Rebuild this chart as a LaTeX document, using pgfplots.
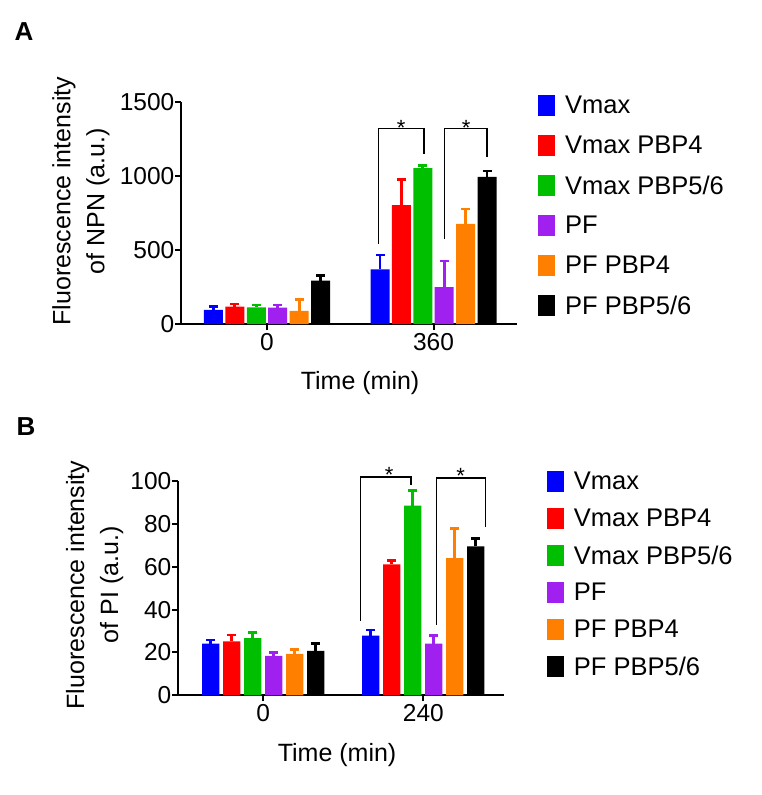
\documentclass[border=0pt]{standalone}
\usepackage{pgfplots}
\pgfplotsset{compat=1.18}
\usepackage{fontspec}
\setmainfont{Liberation Sans}
\definecolor{cblue}{RGB}{0,0,255}
\definecolor{cred}{RGB}{255,0,0}
\definecolor{cgreen}{RGB}{0,190,0}
\definecolor{cpurple}{RGB}{160,32,240}
\definecolor{corange}{RGB}{255,128,0}
\definecolor{cblack}{RGB}{0,0,0}
\pgfplotsset{
  barc/.style={fill=#1, draw=none,
    error bars/.cd, y dir=plus, y explicit,
    error bar style={draw=#1, line width=2.8pt},
    error mark=|,
    error mark options={draw=#1, line width=2.8pt, mark size=4.5pt},
    /pgfplots/.cd},
  common/.style={
    scale only axis,
    axis x line*=bottom, axis y line*=left,
    axis line style={line width=2pt, -},
    every tick/.style={line width=2pt, black},
    tick align=outside, major tick length=6pt,
    xtick={0,1},
    ymin=0, clip=false,
    tick label style={font=\fontsize{24.5}{25}\selectfont},
    /pgf/number format/assume math mode=true,
    /pgf/number format/1000 sep={},
    yticklabel style={inner xsep=0.5pt},
    xlabel style={font=\fontsize{25}{26}\selectfont, anchor=center},
    ylabel style={font=\fontsize{25}{34}\selectfont, align=center, anchor=center},
    legend cell align=left,
    legend style={draw=none, fill=none, inner sep=0pt, row sep=0pt, column sep=0pt,
      font=\fontsize{25.5}{26}\selectfont, anchor=north west,
      nodes={inner sep=0pt}},
  }
}
\begin{document}
\begin{tikzpicture}
\path[use as bounding box] (0pt,0pt) rectangle (762pt,-795pt);
\node[font=\bfseries\fontsize{26}{26}\selectfont] at (24pt,-32pt) {A};
\node[font=\bfseries\fontsize{26}{26}\selectfont] at (26pt,-427pt) {B};
% ---------------- Panel A
\begin{axis}[common,
  at={(181pt,-324pt)}, anchor=south west,
  width=336pt, height=221.7pt,
  xmin=-0.5165, xmax=1.5015,
  ymax=1500, ytick={0,500,1000,1500},
  xticklabels={0,360},
  ybar=2.4pt, bar width=19pt,
  xlabel={Time (min)},
  xlabel style={at={(axis description cs:0.533,-0.2675)}},
  ylabel={Fluorescence intensity\\of NPN (a.u.)},
  ylabel style={at={(axis description cs:-0.298,0.554)}},
  legend style={at={(axis description cs:1.0625,1.0749)}},
  legend image code/.code={\fill[#1] (0pt,-10.5pt) rectangle (17pt,10.5pt); \path[fill=none, draw=none] (0pt,-20pt) rectangle (27pt,20pt);},
]
\addplot[barc=cblue] coordinates {(0,95) +- (0,22) (1,370) +- (0,97)};
\addplot[barc=cred] coordinates {(0,117) +- (0,18) (1,805) +- (0,174)};
\addplot[barc=cgreen] coordinates {(0,113) +- (0,15) (1,1055) +- (0,15)};
\addplot[barc=cpurple] coordinates {(0,110) +- (0,18) (1,250) +- (0,176)};
\addplot[barc=corange] coordinates {(0,88) +- (0,79) (1,677) +- (0,101)};
\addplot[barc=cblack] coordinates {(0,293) +- (0,34) (1,995) +- (0,40)};
\legend{Vmax, Vmax PBP4, Vmax PBP5/6, PF, PF PBP4, PF PBP5/6}
\draw[line width=1.6pt] ([xshift=-55pt]axis cs:1,540) -- ([xshift=-55pt]axis cs:1,1324)
   -- ([xshift=-9.3pt]axis cs:1,1324) -- ([xshift=-9.3pt]axis cs:1,1150);
\draw[line width=1.6pt] ([xshift=11pt]axis cs:1,574) -- ([xshift=11pt]axis cs:1,1324)
   -- ([xshift=53.3pt]axis cs:1,1324) -- ([xshift=53.3pt]axis cs:1,1130);
\node[anchor=base, yshift=-7pt, inner sep=0pt, font=\fontsize{22}{22}\selectfont] at ([xshift=-32.3pt]axis cs:1,1324) {*};
\node[anchor=base, yshift=-7pt, inner sep=0pt, font=\fontsize{22}{22}\selectfont] at ([xshift=32.7pt]axis cs:1,1324) {*};
\end{axis}
% ---------------- Panel B
\begin{axis}[common,
  at={(178pt,-695.3pt)}, anchor=south west,
  width=326pt, height=214.3pt,
  xmin=-0.533, xmax=1.504,
  ymax=100, ytick={0,20,40,60,80,100},
  xticklabels={0,240},
  ybar=3.7pt, bar width=17.3pt,
  xlabel={Time (min)},
  xlabel style={at={(axis description cs:0.488,-0.2786)}},
  ylabel={Fluorescence intensity\\of PI (a.u.)},
  ylabel style={at={(axis description cs:-0.2555,0.515)}},
  legend style={at={(axis description cs:1.131,1.084)}},
  legend image code/.code={\fill[#1] (0pt,-10.5pt) rectangle (17pt,10.5pt); \path[fill=none, draw=none] (0pt,-18.5pt) rectangle (27pt,18.5pt);},
]
\addplot[barc=cblue] coordinates {(0,24.1) +- (0,1.7) (1,27.8) +- (0,2.7)};
\addplot[barc=cred] coordinates {(0,25.2) +- (0,2.9) (1,61.1) +- (0,1.9)};
\addplot[barc=cgreen] coordinates {(0,26.7) +- (0,2.5) (1,88.5) +- (0,7.0)};
\addplot[barc=cpurple] coordinates {(0,18.4) +- (0,1.5) (1,24.1) +- (0,3.9)};
\addplot[barc=corange] coordinates {(0,19.3) +- (0,2.2) (1,64.0) +- (0,14.0)};
\addplot[barc=cblack] coordinates {(0,20.7) +- (0,3.6) (1,69.5) +- (0,3.8)};
\legend{Vmax, Vmax PBP4, Vmax PBP5/6, PF, PF PBP4, PF PBP5/6}
\draw[line width=1.6pt] ([xshift=-62.8pt]axis cs:1,34.7) -- ([xshift=-62.8pt]axis cs:1,102)
   -- ([xshift=-12.5pt]axis cs:1,102) -- ([xshift=-12.5pt]axis cs:1,98);
\draw[line width=1.6pt] ([xshift=13.2pt]axis cs:1,32.7) -- ([xshift=13.2pt]axis cs:1,101.5)
   -- ([xshift=62.2pt]axis cs:1,101.5) -- ([xshift=62.2pt]axis cs:1,78.5);
\node[anchor=base, yshift=-6pt, inner sep=0pt, font=\fontsize{22}{22}\selectfont] at ([xshift=-34.2pt]axis cs:1,102) {*};
\node[anchor=base, yshift=-6pt, inner sep=0pt, font=\fontsize{22}{22}\selectfont] at ([xshift=37.2pt]axis cs:1,101.5) {*};
\end{axis}
\end{tikzpicture}
\end{document}
